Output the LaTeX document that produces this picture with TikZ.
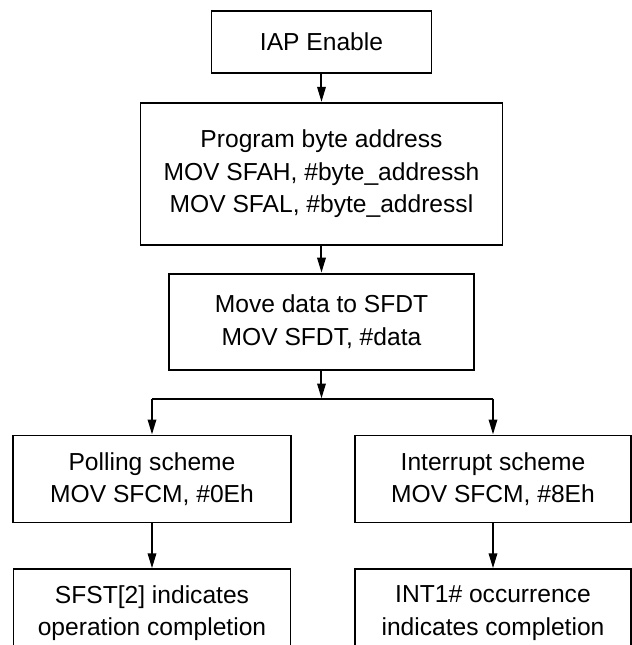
\documentclass[tikz,border=0pt]{standalone}
\usepackage{fontspec}
\setmainfont{Liberation Sans}
\usetikzlibrary{positioning,arrows.meta}
\tikzset{
	block/.style = {rectangle, draw, line width=0.9pt, align=center, inner sep=0pt,
		font=\fontsize{12.3}{16.2}\selectfont},
	line/.style = {draw, line width=1pt, -{Triangle[length=7.5pt,width=4.2pt]}},
	wire/.style = {draw, line width=1pt}
}
\begin{document}
\begin{tikzpicture}
	\useasboundingbox (0,0) rectangle (316pt,-322.5pt);
	\clip (0,0) rectangle (316pt,-322.5pt);
	
	\node [block, minimum width=110pt, minimum height=31pt] (iap) at (160.75pt,-21pt) {IAP Enable};
	\node [block, below = 14pt of iap, minimum width=181pt, minimum height=71pt] (prog)
		{Program byte address\\MOV SFAH, \#byte\_addressh\\MOV SFAL, \#byte\_addressl};
	\node [block, below = 13.5pt of prog, minimum width=152.5pt, minimum height=48pt] (sfdt)
		{Move data to SFDT\\MOV SFDT, \#data};
	
	%split point
	\coordinate [below = 14pt of sfdt.south] (split);
	
	%two schemes
	\node [block, below = 32pt of sfdt, xshift=-84.75pt, minimum width=139pt, minimum height=43.5pt] (poll)
		{Polling scheme\\MOV SFCM, \#0Eh};
	\node [block, below = 32pt of sfdt, xshift=85.75pt, minimum width=138pt, minimum height=43.5pt] (intr)
		{Interrupt scheme\\MOV SFCM, \#8Eh};
	\node [block, below = 22.5pt of poll, minimum width=138.5pt, minimum height=44pt] (pollend)
		{SFST[2] indicates\\operation completion};
	\node [block, below = 22.5pt of intr, minimum width=138pt, minimum height=44pt] (intrend)
		{INT1\# occurrence\\indicates completion};
	
	\path [line] (iap) -- (prog);
	\path [line] (prog) -- (sfdt);
	\path [line] (sfdt) -- (split);
	\path [wire] (split -| poll) -- (split -| intr);
	\path [line] (split -| poll) -- (poll);
	\path [line] (split -| intr) -- (intr);
	\path [line] (poll) -- (pollend);
	\path [line] (intr) -- (intrend);
	
\end{tikzpicture}
\end{document}
